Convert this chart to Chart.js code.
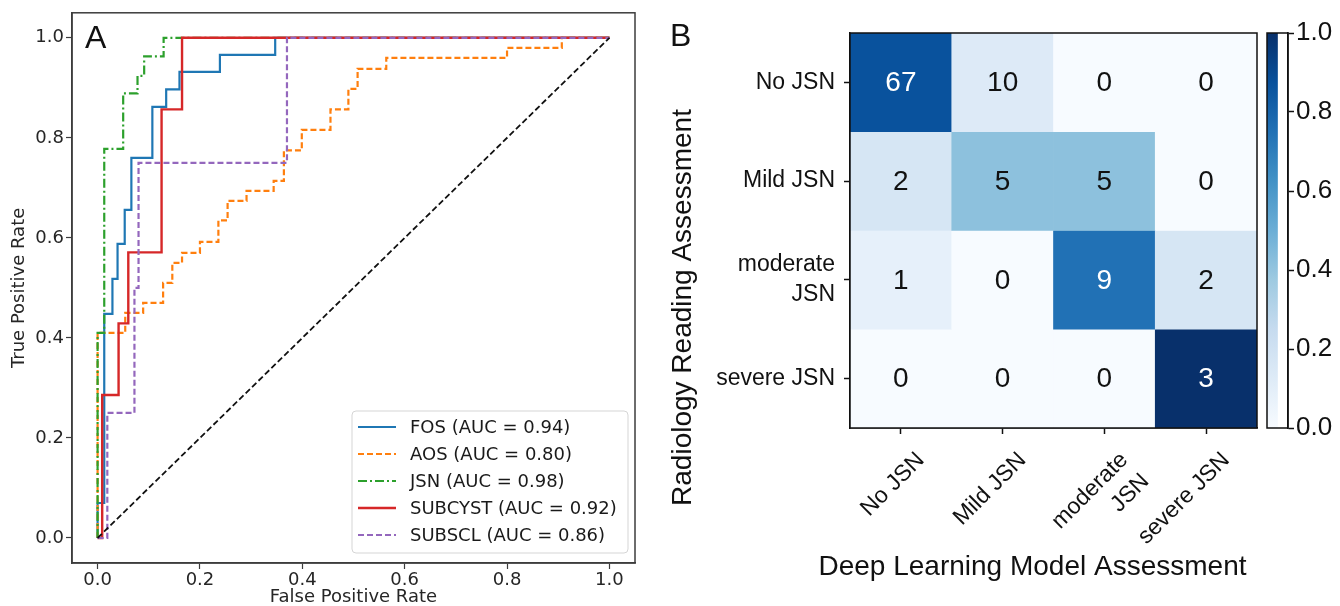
<!DOCTYPE html>
<html>
<head>
<meta charset="utf-8">
<script src="https://cdn.jsdelivr.net/npm/chart.js@4.4.1/dist/chart.umd.min.js"></script>
<style>
  html, body { margin: 0; padding: 0; background: #fff; }
  body { width: 1340px; height: 606px; position: relative; overflow: hidden; }
  .box { position: absolute; top: 0; height: 606px; }
  #rocBox { left: 0; width: 640px; }
  #cmBox { left: 640px; width: 620px; }
  #cbarBox { left: 1250px; width: 90px; }
  .panel { position: absolute; font-family: "Liberation Sans", Arial, sans-serif; font-size: 32px; line-height: 1; color: #111; }
</style>
</head>
<body>
<div class="box" id="rocBox"><canvas id="roc"></canvas></div>
<div class="box" id="cmBox"><canvas id="cm"></canvas></div>
<div class="box" id="cbarBox"><canvas id="cbar"></canvas></div>
<div class="panel" style="left:85px;top:21px;">A</div>
<div class="panel" style="left:670px;top:19px;">B</div>
<script>
// ---- Panel A data: ROC curves (false positive rate / true positive rate) ----
const rocLabels = ['FOS (AUC = 0.94)', 'AOS (AUC = 0.80)', 'JSN (AUC = 0.98)', 'SUBCYST (AUC = 0.92)', 'SUBSCL (AUC = 0.86)'];
const rocTicks = [0, 0.2, 0.4, 0.6, 0.8, 1.0];

const fosFpr = [0, 0, 0.013, 0.013, 0.029, 0.029, 0.039, 0.039, 0.053, 0.053, 0.066, 0.066, 0.107, 0.107, 0.134, 0.134, 0.16, 0.16, 0.239, 0.239, 0.347, 0.347, 1];
const fosTpr = [0, 0.07, 0.07, 0.448, 0.448, 0.518, 0.518, 0.588, 0.588, 0.656, 0.656, 0.76, 0.76, 0.862, 0.862, 0.897, 0.897, 0.932, 0.932, 0.966, 0.966, 1, 1];

const aosFpr = [0, 0, 0.054, 0.054, 0.089, 0.089, 0.128, 0.128, 0.146, 0.146, 0.165, 0.165, 0.2, 0.2, 0.236, 0.236, 0.254, 0.254, 0.291, 0.291, 0.344, 0.344, 0.364, 0.364, 0.399, 0.399, 0.455, 0.455, 0.49, 0.49, 0.508, 0.508, 0.564, 0.564, 0.8, 0.8, 0.907, 0.907, 1];
const aosTpr = [0, 0.41, 0.41, 0.45, 0.45, 0.47, 0.47, 0.51, 0.51, 0.55, 0.55, 0.57, 0.57, 0.592, 0.592, 0.635, 0.635, 0.674, 0.674, 0.694, 0.694, 0.714, 0.714, 0.775, 0.775, 0.816, 0.816, 0.857, 0.857, 0.898, 0.898, 0.938, 0.938, 0.96, 0.96, 0.98, 0.98, 1, 1];

const jsnFpr = [0, 0, 0.013, 0.013, 0.05, 0.05, 0.078, 0.078, 0.091, 0.091, 0.129, 0.129, 1];
const jsnTpr = [0, 0.41, 0.41, 0.778, 0.778, 0.889, 0.889, 0.924, 0.924, 0.963, 0.963, 1, 1];

const subcystFpr = [0, 0.009, 0.009, 0.041, 0.041, 0.06, 0.06, 0.125, 0.125, 0.165, 0.165, 1];
const subcystTpr = [0, 0, 0.286, 0.286, 0.429, 0.429, 0.571, 0.571, 0.857, 0.857, 1, 1];

const subsclFpr = [0, 0.019, 0.019, 0.072, 0.072, 0.08, 0.08, 0.37, 0.37, 1];
const subsclTpr = [0, 0, 0.25, 0.25, 0.5, 0.5, 0.75, 0.75, 1, 1];

const chanceFpr = [0, 1];
const chanceTpr = [0, 1];

// ---- Panel B data: confusion matrix counts (rows = radiology, cols = model) ----
const rowLabels = ['No JSN', 'Mild JSN', ['moderate', 'JSN'], 'severe JSN'];
const colLabels = ['No JSN', 'Mild JSN', ['moderate', 'JSN'], 'severe JSN'];
const countsNoJsn = [67, 10, 0, 0];
const countsMildJsn = [2, 5, 5, 0];
const countsModerateJsn = [1, 0, 9, 2];
const countsSevereJsn = [0, 0, 0, 3];
const cbarTicks = [0, 0.2, 0.4, 0.6, 0.8, 1.0];

// matplotlib "Blues" colour map
const bluesStops = ['#f7fbff', '#deebf7', '#c6dbef', '#9ecae1', '#6baed6', '#4292c6', '#2171b5', '#08519c', '#08306b'];
function hexRgb(h) { return [1, 3, 5].map(i => parseInt(h.substr(i, 2), 16)); }
function blues(t) {
    const p = Math.max(0, Math.min(1, t)) * (bluesStops.length - 1);
    const i = Math.min(Math.floor(p), bluesStops.length - 2);
    const f = p - i;
    const a = hexRgb(bluesStops[i]), b = hexRgb(bluesStops[i + 1]);
    const c = a.map((v, k) => Math.round(v + (b[k] - v) * f));
    return 'rgb(' + c.join(',') + ')';
}

const zip = (xs, ys) => xs.map((x, i) => ({x: x, y: ys[i]}));

// Frame plugin: box around the plot area (matplotlib spines)
const framePlugin = {
    id: 'frame',
    afterDraw(chart, args, opts) {
        const {ctx, chartArea: a} = chart;
        ctx.save();
        ctx.strokeStyle = opts.color;
        ctx.lineWidth = opts.width;
        ctx.strokeRect(a.left, a.top, a.right - a.left, a.bottom - a.top);
        ctx.restore();
    }
};

// ROC legend, lower right inside the axes
const rocLegend = {
    id: 'rocLegend',
    afterDraw(chart) {
        const {ctx, chartArea: a} = chart;
        const w = 276, h = 142;
        const x0 = a.right - 7 - w, y0 = a.bottom - 10 - h;
        ctx.save();
        ctx.fillStyle = 'rgba(255,255,255,0.8)';
        ctx.strokeStyle = '#d5d5d5';
        ctx.lineWidth = 1;
        ctx.beginPath();
        ctx.roundRect(x0, y0, w, h, 4);
        ctx.fill();
        ctx.stroke();
        ctx.font = '18px "DejaVu Sans"';
        ctx.textBaseline = 'middle';
        chart.data.datasets.filter(d => d.inLegend).forEach((d, i) => {
            const y = y0 + 16 + i * 27;
            ctx.strokeStyle = d.borderColor;
            ctx.lineWidth = d.borderWidth;
            ctx.setLineDash(d.borderDash || []);
            ctx.beginPath();
            ctx.moveTo(x0 + 6, y);
            ctx.lineTo(x0 + 44, y);
            ctx.stroke();
            ctx.setLineDash([]);
            ctx.fillStyle = '#1a1a1a';
            ctx.fillText(d.label, x0 + 58, y + 1);
        });
        ctx.restore();
    }
};

const rocStyles = [
    {color: '#1f77b4', dash: []},
    {color: '#ff7f0e', dash: [6, 3]},
    {color: '#2ca02c', dash: [9, 3, 2, 3]},
    {color: '#d62728', dash: []},
    {color: '#9467bd', dash: [6, 3]}
];
const rocPoints = [zip(fosFpr, fosTpr), zip(aosFpr, aosTpr), zip(jsnFpr, jsnTpr), zip(subcystFpr, subcystTpr), zip(subsclFpr, subsclTpr)];

const rocDatasets = rocPoints.map((pts, i) => ({
    label: rocLabels[i],
    data: pts,
    borderColor: rocStyles[i].color,
    borderDash: rocStyles[i].dash,
    borderWidth: i === 3 ? 2.4 : 2.2,
    pointRadius: 0,
    tension: 0,
    order: 5 - i,
    inLegend: true
}));
rocDatasets.push({
    label: 'chance',
    data: zip(chanceFpr, chanceTpr),
    borderColor: '#111',
    borderDash: [6, 3],
    borderWidth: 1.8,
    pointRadius: 0,
    order: 0,
    inLegend: false
});

const rocFont = {family: '"DejaVu Sans", sans-serif', size: 18};
const rocText = '#262626';

new Chart(document.getElementById('roc'), {
    type: 'line',
    data: {datasets: rocDatasets},
    options: {
        responsive: true,
        maintainAspectRatio: false,
        animation: false,
        events: [],
        layout: {padding: {top: 12, right: 5, left: 0, bottom: 0}},
        plugins: {
            legend: {display: false},
            tooltip: {enabled: false},
            frame: {color: '#3c3c3c', width: 1.5}
        },
        scales: {
            x: {
                type: 'linear',
                min: -0.05,
                max: 1.05,
                afterBuildTicks: s => { s.ticks = rocTicks.map(v => ({value: v})); },
                afterFit: s => { s.height = 43; },
                ticks: {font: rocFont, color: rocText, padding: 1, callback: v => v.toFixed(1)},
                grid: {drawOnChartArea: false, drawTicks: true, tickLength: 6, color: '#3c3c3c', tickWidth: 1.2},
                border: {display: true, color: '#3c3c3c', width: 1.5},
                title: {display: true, text: 'False Positive Rate', font: {family: rocFont.family, size: 18, lineHeight: 1}, color: rocText, padding: 0}
            },
            y: {
                type: 'linear',
                min: -0.05,
                max: 1.05,
                afterBuildTicks: s => { s.ticks = rocTicks.map(v => ({value: v})); },
                afterFit: s => { s.width = 72; },
                ticks: {font: rocFont, color: rocText, padding: 2, callback: v => v.toFixed(1)},
                grid: {drawOnChartArea: false, drawTicks: true, tickLength: 6, color: '#3c3c3c', tickWidth: 1.2},
                border: {display: true, color: '#3c3c3c', width: 1.5},
                title: {display: true, text: 'True Positive Rate', font: {family: rocFont.family, size: 18, lineHeight: 1.2}, color: rocText, padding: {top: 9, bottom: 0}}
            }
        }
    },
    plugins: [framePlugin, rocLegend]
});

// ---- Panel B: confusion matrix as floating bars on category/linear scales ----
const cmRows = [countsNoJsn, countsMildJsn, countsModerateJsn, countsSevereJsn];
const cmDatasets = cmRows.map((row, r) => {
    const total = row.reduce((s, v) => s + v, 0);
    const frac = row.map(v => v / total);
    return {
        label: [].concat(rowLabels[r]).join(' '),
        data: row.map(() => [r - 0.5, r + 0.5]),
        counts: row,
        frac: frac,
        backgroundColor: frac.map(blues),
        borderWidth: 0,
        grouped: false,
        barPercentage: 1,
        categoryPercentage: 1
    };
});

const cellText = {
    id: 'cellText',
    afterDatasetsDraw(chart) {
        const {ctx, scales: {x, y}} = chart;
        ctx.save();
        ctx.font = '28px "Liberation Sans", Arial, sans-serif';
        ctx.textAlign = 'center';
        ctx.textBaseline = 'middle';
        chart.data.datasets.forEach((d, r) => {
            d.counts.forEach((v, c) => {
                ctx.fillStyle = d.frac[c] > 0.5 ? '#ffffff' : '#111111';
                ctx.fillText(String(v), x.getPixelForValue(c), y.getPixelForValue(r) + 1);
            });
        });
        ctx.restore();
    }
};

// axis titles of the matrix, placed as in the figure (offset from axis centre)
const cmTitles = {
    id: 'cmTitles',
    afterDraw(chart, args, o) {
        const {ctx, chartArea: a} = chart;
        ctx.save();
        ctx.font = '28px "Liberation Sans", Arial, sans-serif';
        ctx.fillStyle = '#111';
        ctx.textAlign = 'center';
        ctx.textBaseline = 'middle';
        ctx.fillText(o.xText, (a.left + a.right) / 2 - 21, a.bottom + 139);
        ctx.translate(43, (a.top + a.bottom) / 2 + 77);
        ctx.rotate(-Math.PI / 2);
        ctx.fillText(o.yText, 0, 0);
        ctx.restore();
    }
};

const cmFont = {family: '"Liberation Sans", Arial, sans-serif', size: 23, lineHeight: 1.3};

new Chart(document.getElementById('cm'), {
    type: 'bar',
    data: {labels: colLabels, datasets: cmDatasets},
    options: {
        responsive: true,
        maintainAspectRatio: false,
        animation: false,
        events: [],
        layout: {padding: {top: 33, right: 3, left: 0, bottom: 0}},
        plugins: {
            legend: {display: false},
            tooltip: {enabled: false},
            frame: {color: '#111', width: 1.5},
            cmTitles: {xText: 'Deep Learning Model Assessment', yText: 'Radiology Reading Assessment'}
        },
        scales: {
            x: {
                type: 'category',
                afterFit: s => { s.height = 178; },
                ticks: {font: cmFont, color: '#111', padding: 12, labelOffset: 20, minRotation: 45, maxRotation: 45, autoSkip: false},
                grid: {offset: false, drawOnChartArea: false, drawTicks: true, tickLength: 6, color: '#111', tickWidth: 1.5},
                border: {display: true, color: '#111', width: 1.5}
            },
            y: {
                type: 'linear',
                reverse: true,
                min: -0.5,
                max: 3.5,
                afterBuildTicks: s => { s.ticks = rowLabels.map((l, i) => ({value: i})); },
                afterFit: s => { s.width = 210; },
                ticks: {font: cmFont, color: '#111', padding: 9, callback: v => rowLabels[v]},
                grid: {drawOnChartArea: false, drawTicks: true, tickLength: 6, color: '#111', tickWidth: 1.5},
                border: {display: true, color: '#111', width: 1.5}
            }
        }
    },
    plugins: [framePlugin, cellText, cmTitles]
});

// ---- Colour bar ----
new Chart(document.getElementById('cbar'), {
    type: 'bar',
    data: {
        labels: [''],
        datasets: [{
            data: [[0, 1]],
            borderWidth: 0,
            barPercentage: 1,
            categoryPercentage: 1,
            backgroundColor: (c) => {
                const a = c.chart.chartArea;
                if (!a) return bluesStops[0];
                const g = c.chart.ctx.createLinearGradient(0, a.bottom, 0, a.top);
                bluesStops.forEach((col, i) => g.addColorStop(i / (bluesStops.length - 1), col));
                return g;
            }
        }]
    },
    options: {
        responsive: true,
        maintainAspectRatio: false,
        animation: false,
        events: [],
        layout: {padding: {top: 33, right: 0, left: 17, bottom: 178}},
        plugins: {
            legend: {display: false},
            tooltip: {enabled: false},
            frame: {color: '#111', width: 1.5}
        },
        scales: {
            x: {display: false, offset: false},
            y: {
                position: 'right',
                min: 0,
                max: 1,
                afterBuildTicks: s => { s.ticks = cbarTicks.map(v => ({value: v})); },
                afterFit: s => { s.width = 52; },
                ticks: {font: {family: '"Liberation Sans", Arial, sans-serif', size: 26}, color: '#111', padding: 2, callback: v => v.toFixed(1)},
                grid: {drawOnChartArea: false, drawTicks: true, tickLength: 6, color: '#111', tickWidth: 1.5},
                border: {display: true, color: '#111', width: 1.5}
            }
        }
    },
    plugins: [framePlugin]
});
</script>
</body>
</html>
